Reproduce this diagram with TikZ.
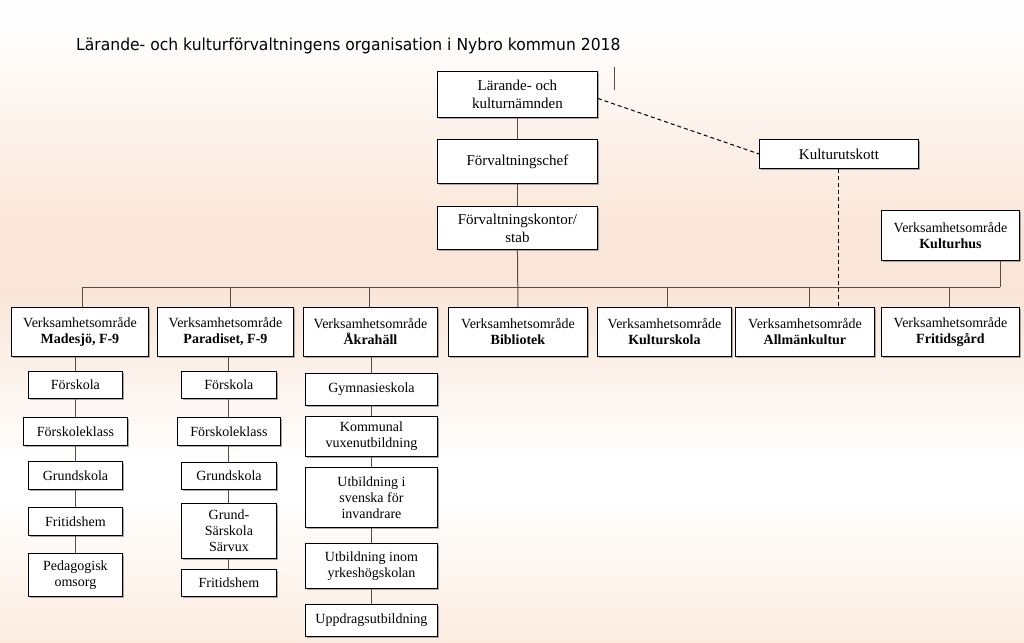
\documentclass[tikz,border=0pt]{standalone}
\usepackage{fontspec}
\setmainfont{Liberation Serif}
\newfontfamily\titlefont{DejaVu Sans}
\usetikzlibrary{shadows}
\definecolor{peach}{RGB}{250,230,216}
\definecolor{peachb}{RGB}{252,236,224}
\definecolor{linec}{RGB}{85,78,72}
\tikzset{
  box/.style={draw=black, line width=0.9pt, fill=white, inner sep=0pt, align=center,
    anchor=north west, font=\fontsize{14}{16}\selectfont,
    drop shadow={shadow xshift=2pt, shadow yshift=-2pt, fill=gray!75, opacity=0.9}},
  topbox/.style={box, font=\fontsize{15}{18}\selectfont},
  subbox/.style={box, font=\fontsize{14}{16}\selectfont},
  conn/.style={draw=linec, line width=1pt},
  dashconn/.style={draw=black, line width=1pt, dash pattern=on 4pt off 3pt},
}
\newcommand\bx[7]{\node[#1, minimum width={#4pt-#2pt}, minimum height={#5pt-#3pt}] (#6) at (#2,#3) {#7};}
\begin{document}
\begin{tikzpicture}[x=1pt,y=-1pt]
\useasboundingbox (0,0) rectangle (1024,642);
% background
\fill[white!60!peach!5] (0,0) rectangle (1024,30);
\shade[top color=white!60!peach!5, bottom color=peach] (0,30) rectangle (1024,230.5);
\fill[peach] (0,230) rectangle (1024,290.5);
\shade[top color=peach, bottom color=white] (0,290) rectangle (1024,460.5);
\fill[white] (0,460) rectangle (1024,500.5);
\shade[top color=white, bottom color=peachb] (0,500) rectangle (1024,642);
% title
\node[anchor=base west, inner sep=0pt, font=\titlefont\fontsize{16.5}{18}\selectfont] (title) at (76,50) {\scalebox{0.944}[1]{Lärande- och kulturförvaltningens organisation i Nybro kommun 2018}};
% top nodes
\bx{topbox}{437}{71}{597}{117}{lkn}{Lärande- och\\kulturnämnden}
\bx{topbox}{437}{139}{597}{183}{fc}{Förvaltningschef}
\bx{topbox}{437}{206}{597}{249}{fk}{Förvaltningskontor/\\stab}
\bx{topbox}{759}{139}{918}{168}{ku}{Kulturutskott}
\bx{box}{881}{210}{1019}{260}{khus}{Verksamhetsområde\\\textbf{Kulturhus}}
% row
\bx{box}{11}{307}{148}{356}{mad}{Verksamhetsområde\\\textbf{Madesjö, F-9}}
\bx{box}{157}{307}{293}{356}{par}{Verksamhetsområde\\\textbf{Paradiset, F-9}}
\bx{box}{303}{307}{437}{356}{akr}{Verksamhetsområde\\\textbf{Åkrahäll}}
\bx{box}{448}{307}{587}{356}{bib}{Verksamhetsområde\\\textbf{Bibliotek}}
\bx{box}{597}{307}{731}{356}{ksk}{Verksamhetsområde\\\textbf{Kulturskola}}
\bx{box}{735}{307}{874}{356}{allm}{Verksamhetsområde\\\textbf{Allmänkultur}}
\bx{box}{881}{307}{1019}{356}{frg}{Verksamhetsområde\\\textbf{Fritidsgård}}
% Madesjö column
\bx{subbox}{28}{371}{122}{398}{m1}{Förskola}
\bx{subbox}{23}{417}{127}{445}{m2}{Förskoleklass}
\bx{subbox}{28}{461}{122}{489}{m3}{Grundskola}
\bx{subbox}{28}{507}{122}{535}{m4}{Fritidshem}
\bx{subbox}{28}{553}{122}{596}{m5}{Pedagogisk\\omsorg}
% Paradiset column
\bx{subbox}{181}{371}{276}{398}{p1}{Förskola}
\bx{subbox}{177}{417}{280}{445}{p2}{Förskoleklass}
\bx{subbox}{181}{462}{276}{489}{p3}{Grundskola}
\bx{subbox}{181}{503}{276}{558}{p4}{Grund-\\Särskola\\Särvux}
\bx{subbox}{181}{569}{276}{596}{p5}{Fritidshem}
% Åkrahäll column
\bx{subbox}{305}{373}{437}{405}{a1}{Gymnasieskola}
\bx{subbox}{305}{416}{437}{456}{a2}{Kommunal\\vuxenutbildning}
\bx{subbox}{305}{467}{437}{527}{a3}{Utbildning i\\svenska för\\invandrare}
\bx{subbox}{305}{543}{437}{588}{a4}{Utbildning inom\\yrkeshögskolan}
\bx{subbox}{305}{604}{437}{636}{a5}{Uppdragsutbildning}
% bus coordinates
\coordinate (busl) at (82,287);
\coordinate (busr) at (1000,287);
\coordinate (markt) at (614,67);
\coordinate (markb) at (614,90);
% connectors
\draw[conn] (lkn.south) -- (fc.north);
\draw[conn] (fc.south) -- (fk.north);
\draw[conn] (fk.south) -- (bib.north);
\draw[conn] (busl) -- (busr);
\draw[conn] (khus.south -| busr) -- (busr);
\draw[conn] (busl) -- (busl |- mad.north);
\draw[conn] (230,287) -- (230,307);
\draw[conn] (369,287) -- (369,307);
\draw[conn] (667,287) -- (667,307);
\draw[conn] (809,287) -- (809,307);
\draw[conn] (949,287) -- (949,307);
\draw[conn] (markt) -- (markb);
\draw[dashconn] (lkn.east) ++(0,4) -- (ku.west);
\draw[dashconn] (ku.south) -- (ku.south |- allm.north);
% columns
\draw[conn] (mad.south -| m1.north) -- (m1.north);
\draw[conn] (m1) -- (m2);
\draw[conn] (m2) -- (m3);
\draw[conn] (m3) -- (m4);
\draw[conn] (m4) -- (m5);
\draw[conn] (par.south -| p1.north) -- (p1.north);
\draw[conn] (p1) -- (p2);
\draw[conn] (p2) -- (p3);
\draw[conn] (p3) -- (p4);
\draw[conn] (p4) -- (p5);
\draw[conn] (akr.south -| a1.north) -- (a1.north);
\draw[conn] (a1) -- (a2);
\draw[conn] (a2) -- (a3);
\draw[conn] (a3) -- (a4);
\draw[conn] (a4) -- (a5);
\end{tikzpicture}
\end{document}
